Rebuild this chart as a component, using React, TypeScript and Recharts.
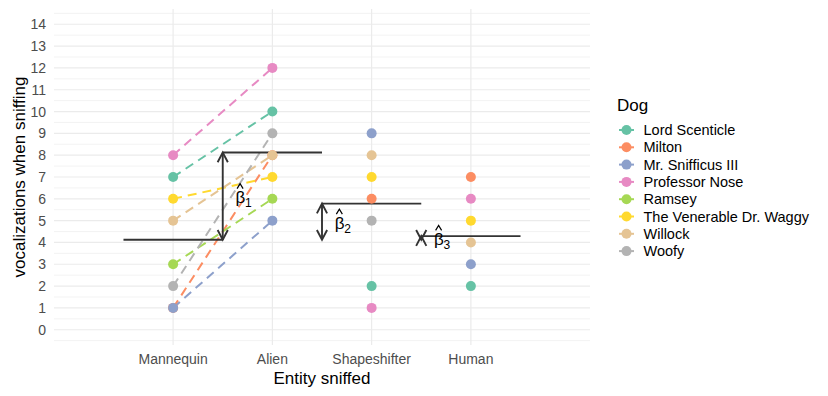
import React from 'react';
import {
  ComposedChart,
  Line,
  Scatter,
  XAxis,
  YAxis,
  CartesianGrid,
  ReferenceLine,
  ReferenceDot,
} from 'recharts';

const entities = ['Mannequin', 'Alien', 'Shapeshifter', 'Human'];
const dogs = [
  'Lord Scenticle',
  'Milton',
  'Mr. Snifficus III',
  'Professor Nose',
  'Ramsey',
  'The Venerable Dr. Waggy',
  'Willock',
  'Woofy',
];
const dogColors = ['#66C2A5', '#FC8D62', '#8DA0CB', '#E78AC3', '#A6D854', '#FFD92F', '#E5C494', '#B3B3B3'];

// values per entity, in the order of `dogs` (null = not observed)
const mannequin = [7, 1, 1, 8, 3, 6, 5, 2];
const alien = [10, 8, 5, 12, 6, 7, 8, 9];
const shapeshifter = [2, 6, 9, 1, null, 7, 8, 5];
const human = [2, 7, 3, 6, null, 5, 4, null];
const valuesByEntity = [mannequin, alien, shapeshifter, human];

// estimated level per entity (horizontal segments)
const estimateLevels = [4.125, 8.125, 5.78, 4.29];
const betaNames = ['1', '2', '3'];

const yTicks = [0, 1, 2, 3, 4, 5, 6, 7, 8, 9, 10, 11, 12, 13, 14];
const yMinor = [-0.5, 0.5, 1.5, 2.5, 3.5, 4.5, 5.5, 6.5, 7.5, 8.5, 9.5, 10.5, 11.5, 12.5, 13.5, 14.5];
const xTicks = [1, 2, 3, 4];

const FONT = '"Liberation Sans", Arial, Helvetica, sans-serif';
const INK = '#333333';

const pairData = dogs.map((_, d) => [
  { x: 1, y: mannequin[d] },
  { x: 2, y: alien[d] },
]);

const pointData = dogs.map((_, d) =>
  valuesByEntity
    .map((vals, e) => ({ x: e + 1, y: vals[d] }))
    .filter((p) => p.y !== null && p.y !== undefined)
);

function headPath(tx: number, ty: number, fx: number, fy: number) {
  const len = 11;
  const ang = Math.PI / 6.5;
  const a = Math.atan2(ty - fy, tx - fx);
  const p1x = tx - len * Math.cos(a - ang);
  const p1y = ty - len * Math.sin(a - ang);
  const p2x = tx - len * Math.cos(a + ang);
  const p2y = ty - len * Math.sin(a + ang);
  return `M ${p1x} ${p1y} L ${tx} ${ty} L ${p2x} ${p2y}`;
}

const arrowShape = (props: any) => {
  const { x1, y1, x2, y2 } = props;
  return (
    <g>
      <line x1={x1} y1={y1} x2={x2} y2={y2} stroke={INK} strokeWidth={1.9} />
      <path
        d={`${headPath(x1, y1, x2, y2)} ${headPath(x2, y2, x1, y1)}`}
        fill="none"
        stroke={INK}
        strokeWidth={1.9}
      />
    </g>
  );
};

const betaShape = (name: string) => (props: any) => {
  const { cx, cy } = props;
  return (
    <g fontFamily={FONT}>
      <text x={cx - 7} y={cy + 7} fontSize={17} fill="#000">
        β
      </text>
      <text x={cx + 2.5} y={cy + 11} fontSize={12} fill="#000">
        {name}
      </text>
      <path
        d={`M ${cx - 5.5} ${cy - 7.5} L ${cx - 2.5} ${cy - 12.5} L ${cx + 0.5} ${cy - 7.5}`}
        fill="none"
        stroke="#000"
        strokeWidth={1.2}
      />
    </g>
  );
};

const Legend = () => (
  <svg
    width={828}
    height={396}
    style={{ position: 'absolute', left: 0, top: 0, pointerEvents: 'none' }}
    fontFamily={FONT}
  >
    <text x={617} y={110.7} fontSize={17} fill="#000">
      Dog
    </text>
    {dogs.map((name, i) => {
      const cy = 130 + 17.3 * i;
      return (
        <g key={name}>
          <line x1={619} x2={634} y1={cy} y2={cy} stroke={dogColors[i]} strokeWidth={2} />
          <circle cx={626.5} cy={cy} r={5} fill={dogColors[i]} />
          <text x={643.5} y={cy + 5} fontSize={14.5} fill="#000">
            {name}
          </text>
        </g>
      );
    })}
  </svg>
);

export default function App() {
  return (
    <div style={{ position: 'absolute', left: 0, top: 0, width: 828, height: 396, background: '#fff' }}>
      <ComposedChart
        width={828}
        height={396}
        margin={{ top: 9, right: 238, bottom: 0, left: 0 }}
        style={{ fontFamily: FONT }}
      >
        <CartesianGrid
          horizontalValues={yMinor}
          vertical={false}
          stroke="#EBEBEB"
          strokeWidth={0.6}
          syncWithTicks={false}
        />
        <CartesianGrid
          horizontalValues={yTicks}
          verticalValues={xTicks}
          stroke="#EBEBEB"
          strokeWidth={1.2}
          syncWithTicks={false}
        />
        <XAxis
          type="number"
          dataKey="x"
          domain={[-0.2, 5.2]}
          ticks={xTicks}
          interval={0}
          allowDataOverflow
          tickFormatter={(v: number) => entities[v - 1] ?? ''}
          tick={{ fill: '#4D4D4D', fontSize: 14, fontFamily: FONT }}
          tickLine={false}
          axisLine={false}
          tickSize={0}
          tickMargin={8.6}
          height={51}
        />
        <YAxis
          type="number"
          dataKey="y"
          domain={[-0.7, 14.7]}
          ticks={yTicks}
          interval={0}
          allowDataOverflow
          tick={{ fill: '#4D4D4D', fontSize: 14, fontFamily: FONT }}
          tickLine={false}
          axisLine={false}
          tickSize={0}
          tickMargin={8}
          width={54}
        />
        {dogs.map((name, d) => (
          <Line
            key={`l-${name}`}
            data={pairData[d]}
            dataKey="y"
            type="linear"
            stroke={dogColors[d]}
            strokeWidth={2}
            strokeDasharray="9 6"
            dot={false}
            activeDot={false}
            isAnimationActive={false}
            legendType="none"
          />
        ))}
        {estimateLevels.map((lvl, e) => (
          <ReferenceLine
            key={`lvl-${e}`}
            segment={[
              { x: e + 0.5, y: lvl },
              { x: e + 1.5, y: lvl },
            ]}
            stroke={INK}
            strokeWidth={1.9}
          />
        ))}
        {estimateLevels.slice(1).map((lvl, k) => (
          <ReferenceLine
            key={`arr-${k}`}
            segment={[
              { x: k + 1.5, y: estimateLevels[0] },
              { x: k + 1.5, y: lvl },
            ]}
            shape={arrowShape}
          />
        ))}
        {estimateLevels.slice(1).map((lvl, k) => (
          <ReferenceDot
            key={`beta-${k}`}
            x={k + 1.7}
            y={(lvl + estimateLevels[0]) / 2}
            r={0}
            shape={betaShape(betaNames[k])}
          />
        ))}
        {dogs.map((name, d) => (
          <Scatter
            key={`s-${name}`}
            name={name}
            data={pointData[d]}
            dataKey="y"
            fill={dogColors[d]}
            isAnimationActive={false}
            shape={(p: any) => <circle cx={p.cx} cy={p.cy} r={5} fill={dogColors[d]} />}
          />
        ))}
      </ComposedChart>
      <Legend />
      <svg
        width={828}
        height={396}
        style={{ position: 'absolute', left: 0, top: 0, pointerEvents: 'none' }}
        fontFamily={FONT}
      >
        <text x={322} y={384} fontSize={17} textAnchor="middle" fill="#000">
          Entity sniffed
        </text>
        <text
          x={24.5}
          y={177}
          fontSize={17}
          textAnchor="middle"
          fill="#000"
          transform="rotate(-90 24.5 177)"
        >
          vocalizations when sniffing
        </text>
      </svg>
    </div>
  );
}
